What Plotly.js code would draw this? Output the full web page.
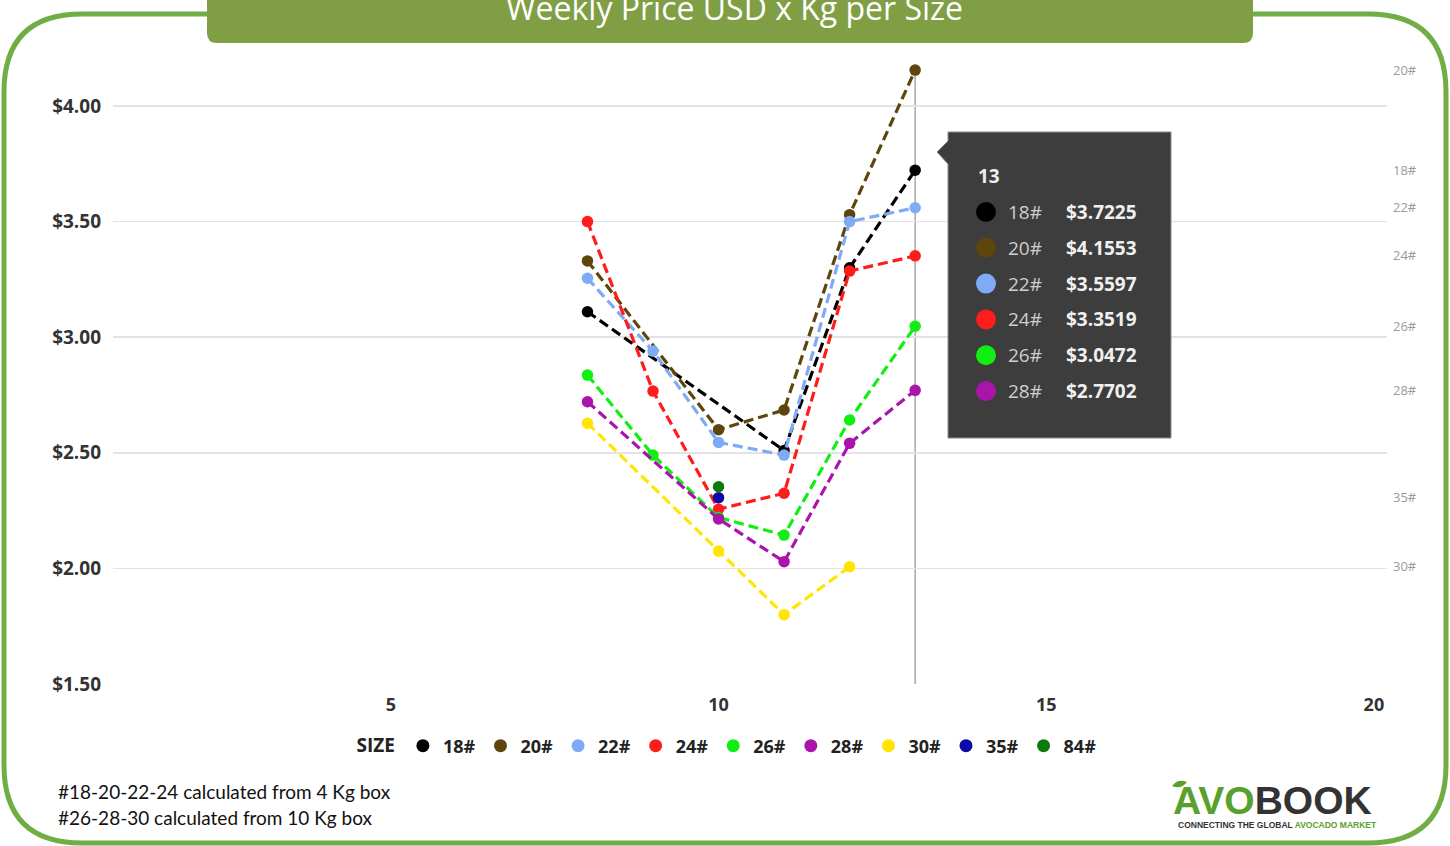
<!DOCTYPE html>
<html><head><meta charset="utf-8">
<script src="https://cdn.plot.ly/plotly-3.0.1.min.js"></script>
<style>html,body{margin:0;padding:0;background:#fff}#chart{width:1450px;height:846px}</style>
</head><body><div id="chart"></div>
<script>
// ---- data ----
const weeks = [8, 9, 10, 11, 12, 13];
const sizes = ['18#', '20#', '22#', '24#', '26#', '28#', '30#', '35#', '84#'];
const colors = ['#000000', '#5e450c', '#7faaf5', '#ff1c1c', '#11ee11', '#aa14aa', '#ffe500', '#0a0aa8', '#0d7a0d'];
const p18 = [3.11, null, null, 2.51, 3.30, 3.7225];
const p20 = [3.33, null, 2.60, 2.685, 3.53, 4.1553];
const p22 = [3.255, 2.94, 2.545, 2.49, 3.50, 3.5597];
const p24 = [3.50, 2.767, 2.256, 2.325, 3.286, 3.3519];
const p26 = [2.836, 2.49, 2.22, 2.144, 2.642, 3.0472];
const p28 = [2.721, null, 2.214, 2.029, 2.541, 2.7702];
const p30 = [2.628, null, 2.075, 1.80, 2.007, null];
const p35 = [null, null, 2.306, null, null, null];
const p84 = [null, null, 2.353, null, null, null];
const series = [p18, p20, p22, p24, p26, p28, p30, p35, p84];
const yTicks = [1.5, 2.0, 2.5, 3.0, 3.5, 4.0];
const xTicks = [5, 10, 15, 20];
const hoverWeek = 13;
const chartTitle = 'Weekly Price USD x Kg per Size';
const notes = ['#18-20-22-24 calculated from 4 Kg box', '#26-28-30 calculated from 10 Kg box'];

// ---- pixel helpers for decoration ----
const W = 1450, H = 846, L = 113, R = 1387, T = 66, B = 684;
const px = v => (v - L) / (R - L);
const py = v => (B - v) / (B - T);
const yRange = [1.5, 4.173];

const traces = [];
series.forEach((s, i) => {
  traces.push({
    type: 'scatter', mode: 'lines+markers', x: weeks, y: s, name: sizes[i],
    connectgaps: true, cliponaxis: false, showlegend: false, hoverinfo: 'skip',
    line: {color: colors[i], width: 3.2, dash: '10px,5px'},
    marker: {color: colors[i], size: 11.5}
  });
});
series.forEach((s, i) => {
  traces.push({
    type: 'scatter', mode: 'markers', x: [null], y: [null], name: sizes[i],
    showlegend: true, hoverinfo: 'skip', marker: {color: colors[i], size: 13}
  });
});
// empty trace so that the right-hand label axis is drawn
traces.push({type: 'scatter', mode: 'markers', x: [null], y: [null], yaxis: 'y2', showlegend: false, hoverinfo: 'skip'});

// right-side labels at each series' last value
const lastVals = [], lastNames = [];
series.forEach((s, i) => {
  let v = null;
  for (let k = s.length - 1; k >= 0; k--) { if (s[k] !== null) { v = s[k]; break; } }
  if (v === null) return;
  if (lastVals.some(u => Math.abs(u - v) < 0.06)) return;
  lastVals.push(v); lastNames.push(sizes[i]);
});

// shapes
const rr = (x0, y0, x1, y1, r) => {
  return `M ${px(x0 + r)} ${py(y0)} L ${px(x1 - r)} ${py(y0)} Q ${px(x1)} ${py(y0)} ${px(x1)} ${py(y0 + r)} ` +
    `L ${px(x1)} ${py(y1 - r)} Q ${px(x1)} ${py(y1)} ${px(x1 - r)} ${py(y1)} L ${px(x0 + r)} ${py(y1)} ` +
    `Q ${px(x0)} ${py(y1)} ${px(x0)} ${py(y1 - r)} L ${px(x0)} ${py(y0 + r)} Q ${px(x0)} ${py(y0)} ${px(x0 + r)} ${py(y0)} Z`;
};
const shapes = [
  {type: 'path', xref: 'paper', yref: 'paper', path: rr(4, 14, 1446, 843, 78), line: {color: '#70ad45', width: 5}, layer: 'below'},
  {type: 'path', xref: 'paper', yref: 'paper', fillcolor: '#809e44', line: {width: 0}, layer: 'above',
   path: `M ${px(207)} ${py(-5)} L ${px(1253)} ${py(-5)} L ${px(1253)} ${py(33)} Q ${px(1253)} ${py(43)} ${px(1243)} ${py(43)} L ${px(217)} ${py(43)} Q ${px(207)} ${py(43)} ${px(207)} ${py(33)} Z`},
  {type: 'line', xref: 'x', yref: 'paper', x0: hoverWeek, x1: hoverWeek, y0: 0, y1: 1, line: {color: '#a8a8a8', width: 1.5}, layer: 'between'},
  {type: 'path', xref: 'paper', yref: 'paper', fillcolor: '#3d3d3d', line: {color: '#8a8a8a', width: 1}, layer: 'above',
   path: `M ${px(948)} ${py(132)} L ${px(1171)} ${py(132)} L ${px(1171)} ${py(438)} L ${px(948)} ${py(438)} L ${px(948)} ${py(164)} L ${px(937)} ${py(152)} L ${px(948)} ${py(141)} Z`},
  // leaf of logo
  {type: 'path', xref: 'paper', yref: 'paper', fillcolor: '#5aa02c', line: {width: 0}, layer: 'above',
   path: `M ${px(1172)} ${py(786)} Q ${px(1178)} ${py(778)} ${px(1187)} ${py(782)} Q ${px(1181)} ${py(790)} ${px(1172)} ${py(786)} Z`}
];

const annotations = [];
// tooltip
annotations.push({xref: 'paper', yref: 'paper', x: px(976), y: py(176), xanchor: 'left', yanchor: 'middle', showarrow: false,
  text: '<b>' + hoverWeek + '</b>', font: {family: 'Open Sans', size: 19, color: '#eeeeee'}});
const hi = weeks.indexOf(hoverWeek);
let row = 0;
series.forEach((s, i) => {
  const v = s[hi];
  if (v === null) return;
  const yc = 212 + row * 35.8;
  shapes.push({type: 'circle', xref: 'paper', yref: 'paper', x0: px(976), x1: px(996), y0: py(yc + 10), y1: py(yc - 10),
    fillcolor: colors[i], line: {width: 0}, layer: 'above'});
  annotations.push({xref: 'paper', yref: 'paper', x: px(1006), y: py(yc), xanchor: 'left', yanchor: 'middle', showarrow: false,
    text: sizes[i], font: {family: 'Open Sans', size: 19, color: '#cfcfcf'}});
  annotations.push({xref: 'paper', yref: 'paper', x: px(1064), y: py(yc), xanchor: 'left', yanchor: 'middle', showarrow: false,
    text: '<b>$' + v.toFixed(4) + '</b>', font: {family: 'Open Sans', size: 19, color: '#f0f0f0'}});
  row++;
});
// footnotes
notes.forEach((t, k) => {
  annotations.push({xref: 'paper', yref: 'paper', x: px(56), y: py(791 + k * 26), xanchor: 'left', yanchor: 'middle', showarrow: false,
    text: t, font: {family: 'Lato', size: 19, color: '#111111'}});
});
// logo
annotations.push({xref: 'paper', yref: 'paper', x: px(1171), y: py(800), xanchor: 'left', yanchor: 'middle', showarrow: false,
  text: '<b><span style="color:#5aa02c">AVO</span><span style="color:#333333">BOOK</span></b>',
  font: {family: 'Liberation Sans', size: 39, color: '#333333'}});
annotations.push({xref: 'paper', yref: 'paper', x: px(1176), y: py(825), xanchor: 'left', yanchor: 'middle', showarrow: false,
  text: '<b>CONNECTING THE GLOBAL <span style="color:#5aa02c">AVOCADO MARKET</span></b>',
  font: {family: 'Liberation Sans', size: 8.5, color: '#333333'}});

const layout = {
  width: W, height: H,
  margin: {l: L, r: W - R, t: T, b: H - B, pad: 0},
  paper_bgcolor: '#ffffff', plot_bgcolor: '#ffffff',
  font: {family: 'Open Sans', color: '#333333'},
  title: {text: chartTitle, x: 0.5066, xref: 'container', y: 1 - 9 / H, yref: 'container', xanchor: 'center', yanchor: 'middle',
    font: {family: 'Open Sans', size: 32, color: '#ffffff'}},
  xaxis: {range: [0.76, 20.2], tickvals: xTicks, showgrid: false, zeroline: false, showline: false, ticks: '',
    ticklabelstandoff: 8, tickfont: {family: 'Open Sans', size: 18, weight: 'bold', color: '#333333'}},
  yaxis: {range: yRange, tickmode: 'array', tickvals: yTicks, ticktext: yTicks.map(v => '$' + v.toFixed(2)),
    showgrid: true, gridcolor: '#e3e3e3', gridwidth: 1.5,
    zeroline: false, showline: false, ticks: '', ticklabelstandoff: 11,
    tickfont: {family: 'Open Sans', size: 19, weight: 'bold', color: '#333333'}},
  yaxis2: {overlaying: 'y', side: 'right', range: yRange, tickmode: 'array', tickvals: lastVals, ticktext: lastNames,
    showgrid: false, zeroline: false, showline: false, ticks: '', ticklabelstandoff: 5,
    tickfont: {family: 'Open Sans', size: 13, color: '#9a9a9a'}},
  showlegend: true,
  legend: {orientation: 'h', x: px(728), xanchor: 'center', y: py(746), yanchor: 'middle', itemwidth: 30,
    title: {text: '<b>SIZE</b>', side: 'left', font: {family: 'Open Sans', size: 19, color: '#222222'}},
    font: {family: 'Open Sans', size: 18, weight: 'bold', color: '#222222'}, tracegroupgap: 0, itemclick: false},
  shapes: shapes, annotations: annotations
};

Plotly.newPlot('chart', traces, layout, {staticPlot: true, displayModeBar: false});
</script>
</body></html>
